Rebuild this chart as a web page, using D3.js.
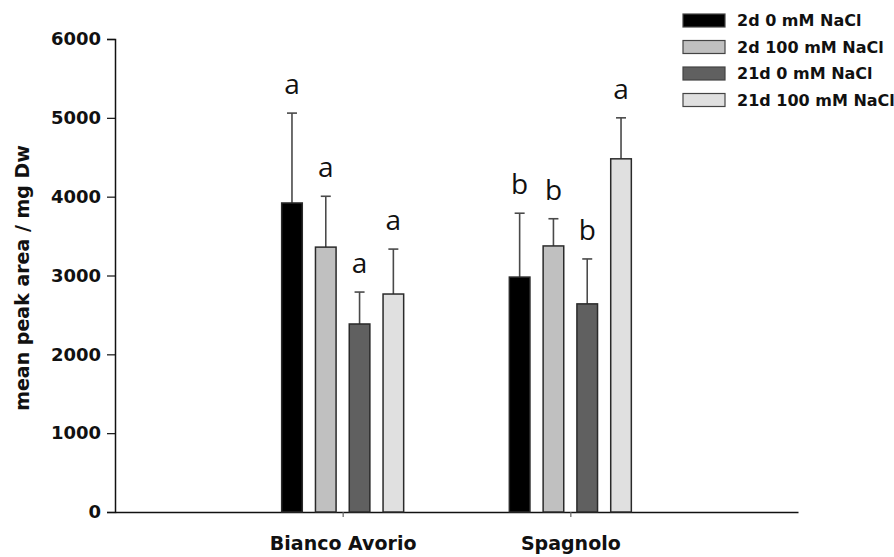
<!DOCTYPE html>
<html>
<head>
<meta charset="utf-8">
<script src="https://cdn.jsdelivr.net/npm/d3@7"></script>
<style>
  body { margin: 0; background: #fff; }
  svg { display: block; }
  .axis text { font-family: "DejaVu Sans", sans-serif; font-weight: bold; fill: #111; }
</style>
</head>
<body>
<div id="chart"></div>
<script>
// data
var cultivars = ["Bianco Avorio", "Spagnolo"];
var series = ["2d 0 mM NaCl", "2d 100 mM NaCl", "21d 0 mM NaCl", "21d 100 mM NaCl"];
var means = [
  [3920, 3360, 2385, 2765],
  [2980, 3375, 2640, 4480]
];
var errors = [
  [1140, 645, 405, 570],
  [810, 345, 570, 520]
];
var letters = [
  ["a", "a", "a", "a"],
  ["b", "b", "b", "a"]
];
var yTicks = [0, 1000, 2000, 3000, 4000, 5000, 6000];
var colors = ["#000000", "#c0c0c0", "#606060", "#e0e0e0"];

var svgWidth = 894, svgHeight = 557;

var svg = d3.select("#chart").append("svg")
  .attr("width", svgWidth)
  .attr("height", svgHeight);

// scales
var x0 = d3.scalePoint()
  .domain(cultivars)
  .range([115, 798])
  .padding(1);

var x1 = d3.scaleBand()
  .domain(series)
  .range([-61, 61])
  .paddingInner(0.39);

var y = d3.scaleLinear()
  .domain([0, 6000])
  .range([512, 39]);

// y axis
var yAxis = svg.append("g")
  .attr("class", "axis")
  .attr("transform", "translate(115,0)")
  .call(d3.axisLeft(y).tickValues(yTicks).tickFormat(d3.format("d"))
    .tickSize(8).tickSizeOuter(8).tickPadding(6));
yAxis.select(".domain").attr("stroke", "#111").attr("stroke-width", 1.5);
yAxis.selectAll(".tick line").attr("stroke", "#111").attr("stroke-width", 1.2);
yAxis.selectAll(".tick text").style("font-size", "18px");

// x axis
var xAxis = svg.append("g")
  .attr("class", "axis")
  .attr("transform", "translate(0,512)")
  .call(d3.axisBottom(x0).tickSize(5).tickSizeOuter(0).tickPadding(20));
xAxis.select(".domain").attr("stroke", "#111").attr("stroke-width", 1.5);
xAxis.selectAll(".tick line").attr("stroke", "#666").attr("stroke-width", 1.2);
xAxis.selectAll(".tick text").style("font-size", "19px");

// y axis title
svg.append("text")
  .attr("transform", "translate(29,278) rotate(-90)")
  .attr("text-anchor", "middle")
  .style("font-family", "DejaVu Sans, sans-serif")
  .style("font-weight", "bold")
  .style("font-size", "19px")
  .attr("fill", "#111")
  .text("mean peak area / mg Dw");

// bars, error bars, letters
var groups = svg.selectAll(".group")
  .data(cultivars)
  .enter().append("g")
  .attr("class", "group")
  .attr("transform", d => `translate(${x0(d)},0)`);

groups.each(function(c, ci) {
  var g = d3.select(this);
  var rows = series.map((s, si) => ({
    s: s, si: si, v: means[ci][si], e: errors[ci][si], l: letters[ci][si]
  }));

  // error bars first so the bar sits on top of the stem
  rows.forEach(function(d) {
    var cx = x1(d.s) + x1.bandwidth() / 2;
    g.append("line")
      .attr("x1", cx).attr("x2", cx)
      .attr("y1", y(d.v)).attr("y2", y(d.v + d.e))
      .attr("stroke", "#4a4a4a").attr("stroke-width", 1.6);
    g.append("line")
      .attr("x1", cx - 5).attr("x2", cx + 5)
      .attr("y1", y(d.v + d.e)).attr("y2", y(d.v + d.e))
      .attr("stroke", "#4a4a4a").attr("stroke-width", 1.6);
  });

  g.selectAll("rect")
    .data(rows)
    .enter().append("rect")
    .attr("x", d => x1(d.s))
    .attr("y", d => y(d.v))
    .attr("width", x1.bandwidth())
    .attr("height", d => y(0) - y(d.v))
    .attr("fill", d => colors[d.si])
    .attr("stroke", "#2a2a2a")
    .attr("stroke-width", 1.5);

  g.selectAll(".letter")
    .data(rows)
    .enter().append("text")
    .attr("class", "letter")
    .attr("x", d => x1(d.s) + x1.bandwidth() / 2)
    .attr("y", d => y(d.v + d.e) - 19)
    .attr("text-anchor", "middle")
    .style("font-family", "Open Sans, sans-serif")
    .style("font-size", "28px")
    .attr("fill", "#111")
    .text(d => d.l);
});

// legend
var legend = svg.append("g")
  .attr("transform", "translate(683,14)");

var item = legend.selectAll(".item")
  .data(series)
  .enter().append("g")
  .attr("class", "item")
  .attr("transform", (d, i) => `translate(0,${i * 26.5})`);

item.append("rect")
  .attr("width", 42)
  .attr("height", 13)
  .attr("fill", (d, i) => colors[i])
  .attr("stroke", "#444")
  .attr("stroke-width", 1.2);

item.append("text")
  .attr("x", 54)
  .attr("y", 6.5)
  .attr("dy", "0.36em")
  .style("font-family", "DejaVu Sans, sans-serif")
  .style("font-weight", "bold")
  .style("font-size", "16px")
  .attr("fill", "#111")
  .text(d => d);
</script>
</body>
</html>
